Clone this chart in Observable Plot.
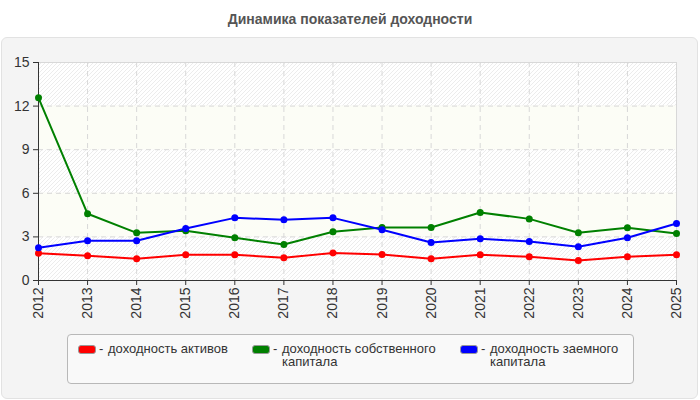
<!DOCTYPE html>
<html>
<head>
<meta charset="utf-8">
<script src="https://cdn.jsdelivr.net/npm/d3@7"></script>
<script src="https://cdn.jsdelivr.net/npm/@observablehq/plot@0.6"></script>
<style>
  html, body { margin: 0; padding: 0; background: #ffffff; }
  body { font-family: Arial, "Liberation Sans", sans-serif; }
  #wrap { position: relative; width: 700px; height: 400px; overflow: hidden; }
  #title { position: absolute; left: 0; top: 11px; width: 700px; text-align: center;
           font-weight: bold; font-size: 14px; color: #555; }
  #panel { position: absolute; left: 1px; top: 37px; width: 695px; height: 360px;
           background: #f4f4f4; border: 1px solid #e2e2e2; border-radius: 6px; }
  #chart { position: absolute; left: 0; top: 0; }
  #legend { position: absolute; left: 67px; top: 334px; width: 565px; height: 48px;
            background: #f9f9f9; border: 1px solid #b8b8b8; border-radius: 4px; }
  .item { position: absolute; top: 7px; font-size: 13px; color: #333; line-height: 13px; }
  .sw { position: absolute; left: 0; top: 3px; width: 16px; height: 7px; border: 1px solid #999; border-radius: 3px; }
  .dash { position: absolute; left: 21px; top: 0; }
  .txt { position: absolute; left: 30px; top: 0; }
</style>
</head>
<body>
<div id="wrap">
  <div id="title"></div>
  <div id="panel"></div>
  <div id="chart"></div>
  <div id="legend"></div>
</div>
<script>
const chartTitle = "Динамика показателей доходности";
const years = [2012, 2013, 2014, 2015, 2016, 2017, 2018, 2019, 2020, 2021, 2022, 2023, 2024, 2025];
const roa = [1.88, 1.70, 1.49, 1.77, 1.77, 1.56, 1.90, 1.79, 1.49, 1.77, 1.63, 1.38, 1.63, 1.77];
const roe = [12.57, 4.59, 3.28, 3.42, 2.94, 2.48, 3.35, 3.65, 3.65, 4.68, 4.24, 3.28, 3.63, 3.23];
const rod = [2.25, 2.73, 2.73, 3.58, 4.31, 4.18, 4.31, 3.49, 2.62, 2.87, 2.68, 2.32, 2.94, 3.92];
const seriesNames = ["доходность активов", "доходность собственного капитала", "доходность заемного капитала"];
const seriesColors = ["#ff0000", "#008000", "#0000ff"];
const yTicks = [0, 3, 6, 9, 12, 15];

document.getElementById("title").textContent = chartTitle;

const seriesValues = [roa, roe, rod];
const data = [];
seriesValues.forEach((vals, i) => {
  vals.forEach((v, j) => data.push({year: years[j], value: v, series: seriesNames[i]}));
});

const bands = [];
for (let i = 0; i < yTicks.length - 1; i++) {
  bands.push({y1: yTicks[i], y2: yTicks[i + 1], hatched: i % 2 === 0});
}

const chart = Plot.plot({
  width: 700,
  height: 330,
  marginLeft: 38,
  marginRight: 24,
  marginTop: 62,
  marginBottom: 50,
  style: {background: "transparent", fontFamily: "Arial, 'Liberation Sans', sans-serif", fontSize: "14px", color: "#333"},
  x: {domain: [years[0], years[years.length - 1]], label: null},
  y: {domain: [yTicks[0], yTicks[yTicks.length - 1]], label: null},
  color: {domain: seriesNames, range: seriesColors},
  marks: [
    Plot.rect(bands.filter(d => d.hatched), {x1: years[0], x2: years[years.length - 1], y1: "y1", y2: "y2", fill: "url(#hatch)"}),
    Plot.rect(bands.filter(d => !d.hatched), {x1: years[0], x2: years[years.length - 1], y1: "y1", y2: "y2", fill: "#fcfdf6"}),
    Plot.gridX(years, {stroke: "#d8d8d8", strokeOpacity: 1, strokeDasharray: "5,4"}),
    Plot.gridY(yTicks, {stroke: "#d8d8d8", strokeOpacity: 1, strokeDasharray: "5,4"}),
    Plot.ruleY([yTicks[yTicks.length - 1]], {stroke: "#d8d8d8"}),
    Plot.ruleX([years[years.length - 1]], {stroke: "#d8d8d8"}),
    Plot.axisY(yTicks, {tickSize: 5, tickPadding: 4, tickFormat: d => String(d), stroke: "#333", fill: "#333", fontSize: 14, label: null}),
    Plot.axisX(years, {tickSize: 5, tickPadding: 2, tickRotate: -90, tickFormat: d => String(d), stroke: "#333", fill: "#333", fontSize: 14, label: null}),
    Plot.ruleY([0], {stroke: "#333"}),
    Plot.ruleX([years[0]], {stroke: "#333", y1: yTicks[0], y2: yTicks[yTicks.length - 1]}),
    Plot.line(data, {x: "year", y: "value", z: "series", stroke: "series", strokeWidth: 2}),
    Plot.dot(data, {x: "year", y: "value", fill: "series", r: 3.5})
  ]
});

// hatch pattern definition
const svgSel = d3.select(chart);
const defs = svgSel.insert("defs", ":first-child");
const pat = defs.append("pattern").attr("id", "hatch").attr("patternUnits", "userSpaceOnUse")
  .attr("width", 4).attr("height", 4);
pat.append("rect").attr("width", 4).attr("height", 4).attr("fill", "#ffffff");
pat.append("path").attr("d", "M-1,1 l2,-2 M0,4 l4,-4 M3,5 l2,-2").attr("stroke", "#ececec").attr("stroke-width", 1);

document.getElementById("chart").appendChild(chart);

// legend
const legend = document.getElementById("legend");
const itemLeft = [10, 184, 392];
const itemWidth = [140, 165, 150];
seriesNames.forEach((name, i) => {
  const it = document.createElement("div");
  it.className = "item";
  it.style.left = itemLeft[i] + "px";
  const sw = document.createElement("div");
  sw.className = "sw";
  sw.style.background = seriesColors[i];
  const dash = document.createElement("span");
  dash.className = "dash";
  dash.textContent = "-";
  const txt = document.createElement("div");
  txt.className = "txt";
  txt.style.width = itemWidth[i] + "px";
  txt.textContent = name;
  it.appendChild(sw); it.appendChild(dash); it.appendChild(txt);
  legend.appendChild(it);
});
</script>
</body>
</html>
